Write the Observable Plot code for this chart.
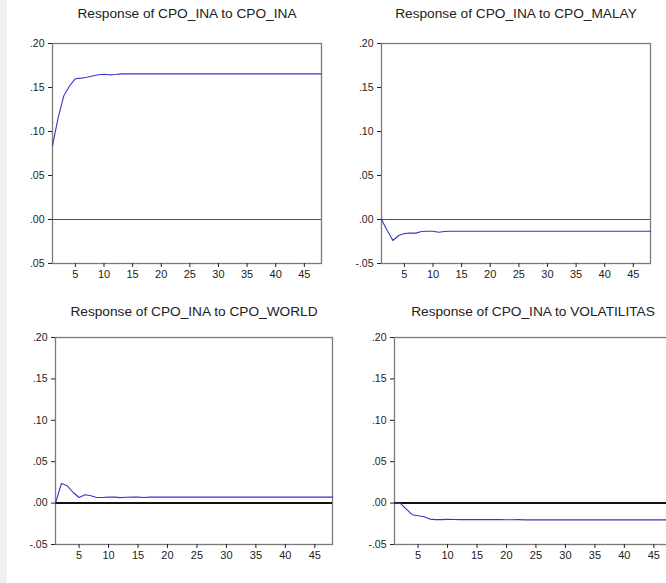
<!DOCTYPE html>
<html>
<head>
<meta charset="utf-8">
<script src="https://cdn.jsdelivr.net/npm/d3@7"></script>
<script src="https://cdn.jsdelivr.net/npm/@observablehq/plot@0.6"></script>
<style>
  html, body { margin: 0; padding: 0; background: #fff; }
  #wrap { position: relative; width: 666px; height: 583px; overflow: hidden; background: #fff; font-family: "Liberation Sans", Arial, sans-serif; }
  .panel { position: absolute; }
  .strip { position: absolute; left: 0; top: 0; width: 7px; height: 583px; background: #f0f0f1; }
</style>
</head>
<body>
<div id="wrap"><div class="strip"></div></div>
<script>
// ---- data ----
const horizon = d3.range(1, 49); // periods 1..48
const xTicks = [5, 10, 15, 20, 25, 30, 35, 40, 45];
const yTicks = [-0.05, 0.00, 0.05, 0.10, 0.15, 0.20];
const yTickLabelsA = [".05", ".00", ".05", ".10", ".15", ".20"];
const yTickLabelsB = ["-.05", ".00", ".05", ".10", ".15", ".20"];

const titles = [
  "Response of CPO_INA to CPO_INA",
  "Response of CPO_INA to CPO_MALAY",
  "Response of CPO_INA to CPO_WORLD",
  "Response of CPO_INA to VOLATILITAS"
];

const respIna = [0.084, 0.116, 0.141, 0.152, 0.160, 0.1606, 0.1617, 0.163, 0.1644, 0.1651,
  0.1644, 0.1648, 0.1655, 0.1655, 0.1655, 0.1655, 0.1655, 0.1655, 0.1655, 0.1655,
  0.1655, 0.1655, 0.1655, 0.1655, 0.1655, 0.1655, 0.1655, 0.1655, 0.1655, 0.1655,
  0.1655, 0.1655, 0.1655, 0.1655, 0.1655, 0.1655, 0.1655, 0.1655, 0.1655, 0.1655,
  0.1655, 0.1655, 0.1655, 0.1655, 0.1655, 0.1655, 0.1655, 0.1655];

const respMalay = [0.000, -0.0125, -0.0239, -0.0182, -0.0159, -0.0155, -0.0155, -0.0136, -0.0133, -0.0133,
  -0.0144, -0.0136, -0.0133, -0.0133, -0.0133, -0.0133, -0.0133, -0.0133, -0.0133, -0.0133,
  -0.0133, -0.0133, -0.0133, -0.0133, -0.0133, -0.0133, -0.0133, -0.0133, -0.0133, -0.0133,
  -0.0133, -0.0133, -0.0133, -0.0133, -0.0133, -0.0133, -0.0133, -0.0133, -0.0133, -0.0133,
  -0.0133, -0.0133, -0.0133, -0.0133, -0.0133, -0.0133, -0.0133, -0.0133];

const respWorld = [0.000, 0.0237, 0.0209, 0.0128, 0.0068, 0.0100, 0.0088, 0.0068, 0.0068, 0.0072,
  0.0072, 0.0066, 0.0070, 0.0072, 0.0072, 0.0067, 0.0072, 0.0072, 0.0072, 0.0072,
  0.0072, 0.0072, 0.0072, 0.0072, 0.0072, 0.0072, 0.0072, 0.0072, 0.0072, 0.0072,
  0.0072, 0.0072, 0.0072, 0.0072, 0.0072, 0.0072, 0.0072, 0.0072, 0.0072, 0.0072,
  0.0072, 0.0072, 0.0072, 0.0072, 0.0072, 0.0072, 0.0072, 0.0072];

const respVol = [0.000, -0.0004, -0.0072, -0.0140, -0.0153, -0.0165, -0.0193, -0.0200, -0.0200, -0.0197,
  -0.0198, -0.0200, -0.0200, -0.0199, -0.0200, -0.0200, -0.0200, -0.0198, -0.0200, -0.0201,
  -0.0201, -0.0200, -0.0202, -0.0202, -0.0202, -0.0202, -0.0202, -0.0202, -0.0202, -0.0202,
  -0.0202, -0.0202, -0.0202, -0.0202, -0.0202, -0.0202, -0.0202, -0.0202, -0.0202, -0.0202,
  -0.0202, -0.0202, -0.0202, -0.0202, -0.0202, -0.0202, -0.0202, -0.0202];

// ---- drawing ----
const wrap = document.getElementById("wrap");

function panel({left, top, width, height, mL, mR, mT, mB, values, title, yLabels, zeroColor, zeroWidth, titleSpacing, titleDy}) {
  const rows = horizon.map((h, i) => ({h, v: values[i]}));
  const labelOf = new Map(yTicks.map((t, i) => [Math.round(t * 100), yLabels[i]]));
  const chart = Plot.plot({
    width, height,
    marginLeft: mL, marginRight: mR, marginTop: mT, marginBottom: mB,
    style: {fontFamily: '"Liberation Sans", Arial, sans-serif', background: "transparent", overflow: "visible", color: "#222"},
    x: {domain: [1, 48]},
    y: {domain: [-0.05, 0.20]},
    marks: [
      Plot.frame({stroke: "#7a7a7a", strokeWidth: 1.3}),
      Plot.ruleY([0], {stroke: zeroColor, strokeWidth: zeroWidth}),
      Plot.lineY(rows, {x: "h", y: "v", stroke: "#3434d0", strokeWidth: 1.1}),
      Plot.axisX({ticks: xTicks, tickSize: 4, tickPadding: 3, fontSize: 11, label: null, stroke: "#222"}),
      Plot.axisY({ticks: yTicks, tickSize: 4, tickPadding: 4, fontSize: 10.5, label: null, stroke: "#222",
        tickFormat: d => labelOf.get(Math.round(d * 100))}),
      Plot.text([title], {frameAnchor: "top", lineAnchor: "top", dy: titleDy, text: d => d, fontSize: 13.7, fill: "#222",
        letterSpacing: titleSpacing})
    ]
  });
  chart.classList.add("panel");
  chart.style.left = left + "px";
  chart.style.top = top + "px";
  wrap.appendChild(chart);
}

panel({left: 0, top: 0, width: 340, height: 290, mL: 52, mR: 19, mT: 43, mB: 27,
  values: respIna, title: titles[0], yLabels: yTickLabelsA, zeroColor: "#555", zeroWidth: 1,
  titleSpacing: "0px", titleDy: -35});
panel({left: 330, top: 0, width: 336, height: 290, mL: 51, mR: 16, mT: 43, mB: 27,
  values: respMalay, title: titles[1], yLabels: yTickLabelsB, zeroColor: "#555", zeroWidth: 1,
  titleSpacing: "0px", titleDy: -35});
panel({left: 0, top: 290, width: 340, height: 293, mL: 55, mR: 8, mT: 47, mB: 39,
  values: respWorld, title: titles[2], yLabels: yTickLabelsB, zeroColor: "#111", zeroWidth: 2,
  titleSpacing: "1.2px", titleDy: -31});
panel({left: 330, top: 290, width: 360, height: 293, mL: 64, mR: 19, mT: 47, mB: 39,
  values: respVol, title: titles[3], yLabels: yTickLabelsB, zeroColor: "#111", zeroWidth: 2,
  titleSpacing: "0.85px", titleDy: -31});
</script>
</body>
</html>
